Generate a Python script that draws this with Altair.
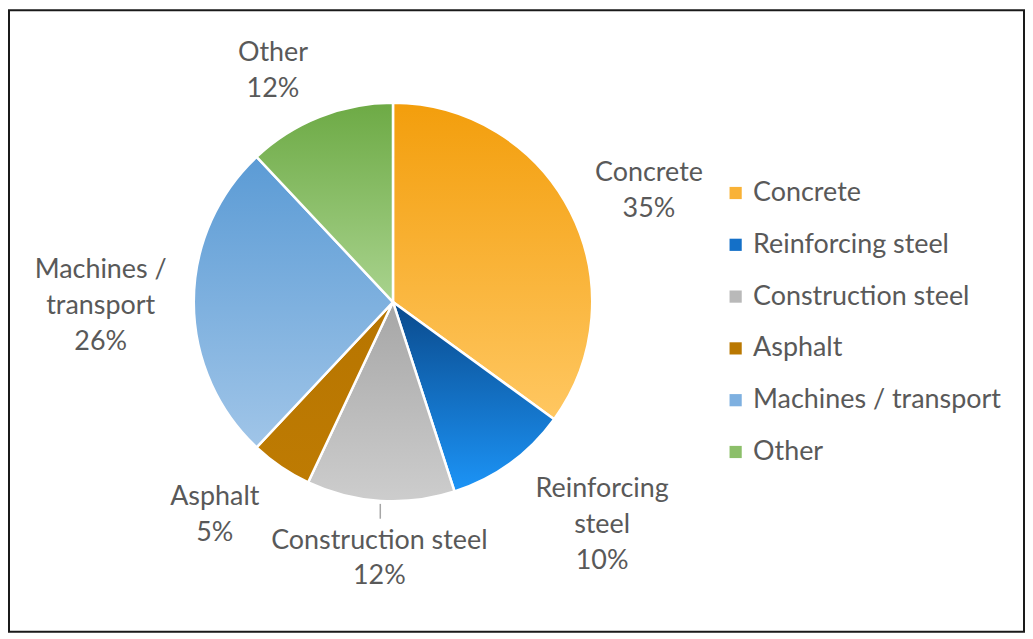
import math
import altair as alt
import pandas as pd

# ---- data -------------------------------------------------------------
categories = ["Concrete", "Reinforcing steel", "Construction steel",
              "Asphalt", "Machines / transport", "Other"]
shares = [35, 10, 12, 5, 26, 12]
label_lines = ["Concrete", "Reinforcing\nsteel", "Construction steel",
               "Asphalt", "Machines /\ntransport", "Other"]

# ---- styles -----------------------------------------------------------
mid_colors = ["#F9B236", "#1470C8", "#B9B9B9", "#BA7801", "#7EB0E0", "#8CBF6A"]
grad_top = ["#F39E0C", "#0A4A8C", "#A6A6A6", "#B77500", "#5B9BD5", "#6DAA45"]
grad_bottom = ["#FFC761", "#1C94F7", "#CDCDCD", "#BE7B03", "#A0C5E8", "#A9D38E"]
text_color = "#595959"
FONT = "Lato"
FS = 27
LH = 36

W, H = 1019, 624
CX, CY = 385.5, 293
R = 200
GAP = 18
XPAD = 12

# ---- derived table ----------------------------------------------------
df = pd.DataFrame({"category": categories, "share": shares, "label": label_lines})
df["end"] = df["share"].cumsum()
df["start"] = df["end"] - df["share"]
df["mid"] = (df["start"] + df["end"]) / 2
df["text"] = [f"{l}\n{s}%" for l, s in zip(df["label"], df["share"])]


def label_pos(row):
    """Outside-end label placement: box pushed off the rim at the mid angle."""
    lines = row["text"].split("\n")
    w = max(len(s) for s in lines) * 0.47 * FS
    h = len(lines) * LH
    ang = row["mid"] / 100 * 2 * math.pi
    s, c = math.sin(ang), math.cos(ang)
    px = CX + (R + GAP) * s
    py = CY - (R + GAP) * c
    kx = 0.0 if abs(s) < 0.15 else max(-1.0, min(1.0, 2.5 * s))
    cxl = px + kx * (w / 2 + XPAD)
    cyl = py - c * h / 2
    first_y = cyl - (len(lines) - 1) * LH / 2
    return pd.Series({"lx": cxl, "ly": first_y, "ltop": cyl - h / 2,
                      "rim_x": CX + (R + 3) * s, "rim_y": CY - (R + 3) * c})


df = pd.concat([df, df.apply(label_pos, axis=1)], axis=1)

theta_scale = alt.Scale(domain=[0, 100])

base = alt.Chart(df).encode(x=alt.value(CX), y=alt.value(CY))

pie_base = base.mark_arc(outerRadius=R, stroke="white", strokeWidth=2.5).encode(
    theta=alt.Theta("start:Q", scale=theta_scale),
    theta2="end:Q",
    color=alt.Color("category:N",
                    scale=alt.Scale(domain=categories, range=mid_colors),
                    sort=categories,
                    legend=alt.Legend(title=None)),
)

layers = [pie_base]
for cat, top, bot in zip(categories, grad_top, grad_bottom):
    grad = {
        "gradient": "linear", "x1": 0, "y1": 0, "x2": 0, "y2": 1,
        "stops": [{"offset": 0, "color": top}, {"offset": 1, "color": bot}],
    }
    layers.append(
        base.transform_filter(alt.datum.category == cat)
        .mark_arc(outerRadius=R, stroke="white", strokeWidth=2.5, fill=grad)
        .encode(theta=alt.Theta("start:Q", scale=theta_scale), theta2="end:Q")
    )

labels = alt.Chart(df).mark_text(font=FONT, fontSize=FS, color=text_color,
                                 lineBreak="\n", lineHeight=LH, dy=4,
                                 align="center", baseline="middle").encode(
    x=alt.X("lx:Q", scale=None),
    y=alt.Y("ly:Q", scale=None),
    text="text:N",
)

# leader line for the label pushed below the pie
leader = alt.Chart(df).transform_filter(
    alt.datum.category == "Construction steel"
).mark_rule(color="#A6A6A6", strokeWidth=1.5).encode(
    x=alt.X("rim_x:Q", scale=None), y=alt.Y("rim_y:Q", scale=None),
    x2="rim_x:Q", y2=alt.Y2("ltop:Q"),
)

chart = alt.layer(*layers, labels, leader).properties(
    width=W, height=H, padding=1,
).configure_view(
    stroke="#1a1a1a", strokeWidth=2,
).configure_legend(
    orient="none", legendX=716, legendY=170,
    labelFont=FONT, labelFontSize=FS, labelColor=text_color,
    symbolType="square", symbolSize=150, symbolStrokeWidth=0,
    rowPadding=24, labelOffset=4, padding=0, labelLimit=400,
)

chart.save("out.html", embed_options={"renderer": "svg", "actions": False})
